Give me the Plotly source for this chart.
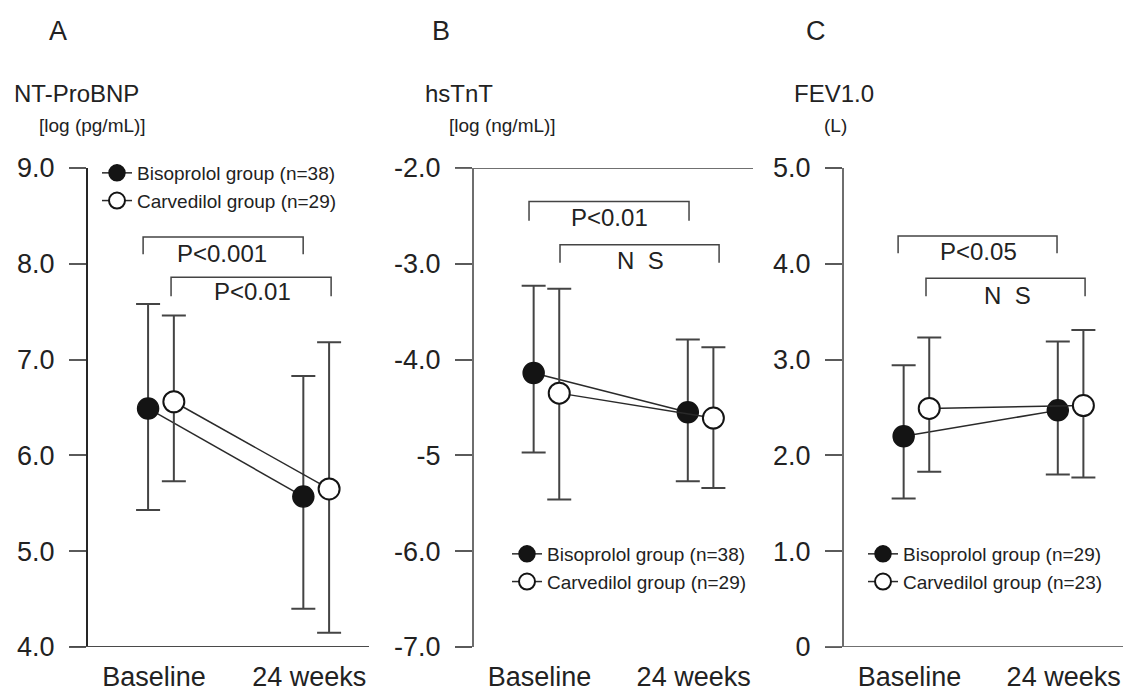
import plotly.graph_objects as go

# ---------------------------------------------------------------- data
categories = ["Baseline", "24 weeks"]

# A: NT-ProBNP [log (pg/mL)]  mean with upper / lower whisker ends
ntprobnp_bis_mean = [6.49, 5.57]
ntprobnp_bis_upper = [7.58, 6.83]
ntprobnp_bis_lower = [5.43, 4.40]
ntprobnp_car_mean = [6.56, 5.65]
ntprobnp_car_upper = [7.46, 7.18]
ntprobnp_car_lower = [5.73, 4.15]

# B: hsTnT [log (ng/mL)]
hstnt_bis_mean = [-4.14, -4.55]
hstnt_bis_upper = [-3.23, -3.79]
hstnt_bis_lower = [-4.97, -5.27]
hstnt_car_mean = [-4.35, -4.61]
hstnt_car_upper = [-3.26, -3.87]
hstnt_car_lower = [-5.46, -5.34]

# C: FEV1.0 (L)
fev_bis_mean = [2.20, 2.47]
fev_bis_upper = [2.94, 3.19]
fev_bis_lower = [1.55, 1.80]
fev_car_mean = [2.49, 2.52]
fev_car_upper = [3.23, 3.31]
fev_car_lower = [1.83, 1.77]

names_a = ["Bisoprolol group (n=38)", "Carvedilol group (n=29)"]
names_b = ["Bisoprolol group (n=38)", "Carvedilol group (n=29)"]
names_c = ["Bisoprolol group (n=29)", "Carvedilol group (n=23)"]

ytick_vals_a = [4, 5, 6, 7, 8, 9]
ytick_text_a = ["4.0", "5.0", "6.0", "7.0", "8.0", "9.0"]
ytick_vals_b = [-7, -6, -5, -4, -3, -2]
ytick_text_b = ["-7.0", "-6.0", "-5", "-4.0", "-3.0", "-2.0"]
ytick_vals_c = [0, 1, 2, 3, 4, 5]
ytick_text_c = ["0", "1.0", "2.0", "3.0", "4.0", "5.0"]

panel_letters = ["A", "B", "C"]
panel_titles = [("NT-ProBNP", "[log (pg/mL)]"),
                ("hsTnT", "[log (ng/mL)]"),
                ("FEV1.0", "(L)")]

# significance labels per panel: (baseline comparison, 24-week comparison)
sig_a = ["P<0.001", "P<0.01"]
sig_b = ["P<0.01", "N\u00a0\u00a0S"]
sig_c = ["P<0.05", "N\u00a0\u00a0S"]

# ---------------------------------------------------------------- layout helpers
W, H = 1132, 694
FONT = "Arial, Liberation Sans, Helvetica, sans-serif"
TXT = "#222222"


def px_x(p):
    return p / W


def px_y(p):
    return 1 - p / H


XRANGE = [-0.47, 1.34]
DODGE = 0.083
LABEL_SHIFT = -0.045
x_dom = [[px_x(88), px_x(369)], [px_x(474), px_x(753)], [px_x(844), px_x(1123)]]
y_dom = [px_y(647), px_y(168)]

panels = [
    dict(bis=(ntprobnp_bis_mean, ntprobnp_bis_upper, ntprobnp_bis_lower),
         car=(ntprobnp_car_mean, ntprobnp_car_upper, ntprobnp_car_lower),
         names=names_a, tv=ytick_vals_a, tt=ytick_text_a, rng=[4, 9],
         axcol="#262626", sig=sig_a,
         brackets=[(-0.115, 0.916, 8.28, 8.10, 0.394, 8.11),
                   (0.065, 1.096, 7.86, 7.66, 0.59, 7.71)],
         legend=dict(x=px_x(97), y=px_y(154))),
    dict(bis=(hstnt_bis_mean, hstnt_bis_upper, hstnt_bis_lower),
         car=(hstnt_car_mean, hstnt_car_upper, hstnt_car_lower),
         names=names_b, tv=ytick_vals_b, tt=ytick_text_b, rng=[-7, -2],
         axcol="#6e6e6e", sig=sig_b,
         brackets=[(-0.113, 0.925, -2.35, -2.55, 0.406, -2.52),
                   (0.088, 1.12, -2.80, -2.99, 0.607, -2.97)],
         legend=dict(x=px_x(507), y=px_y(535))),
    dict(bis=(fev_bis_mean, fev_bis_upper, fev_bis_lower),
         car=(fev_car_mean, fev_car_upper, fev_car_lower),
         names=names_c, tv=ytick_vals_c, tt=ytick_text_c, rng=[0, 5],
         axcol="#6e6e6e", sig=sig_c,
         brackets=[(-0.119, 0.912, 4.29, 4.11, 0.40, 4.13),
                   (0.062, 1.094, 3.85, 3.66, 0.588, 3.67)],
         legend=dict(x=px_x(863), y=px_y(535))),
]

fig = go.Figure()
layout = dict(width=W, height=H, margin=dict(l=0, r=0, t=0, b=0, autoexpand=False),
              paper_bgcolor="white", plot_bgcolor="white",
              font=dict(family=FONT, color=TXT), showlegend=True)
shapes, annotations = [], []

cat_pos = list(range(len(categories)))

for i, p in enumerate(panels):
    sfx = "" if i == 0 else str(i + 1)
    xa, ya = "x" + sfx, "y" + sfx
    leg = "legend" + sfx

    for key, fill, lw, off in (("bis", "#141414", 1.5, -DODGE),
                               ("car", "white", 2, DODGE)):
        mean, upper, lower = p[key]
        fig.add_trace(go.Scatter(
            x=[c + off for c in cat_pos], y=mean,
            mode="lines+markers",
            name=p["names"][0 if key == "bis" else 1],
            line=dict(color="#2a2a2a", width=1.5),
            marker=dict(size=21, color=fill, line=dict(color="#141414", width=lw)),
            error_y=dict(type="data", symmetric=False,
                         array=[u - m for u, m in zip(upper, mean)],
                         arrayminus=[m - l for m, l in zip(mean, lower)],
                         color="#444444", thickness=2, width=12),
            cliponaxis=False, xaxis=xa, yaxis=ya, legend=leg,
        ))

    layout["xaxis" + sfx] = dict(
        domain=x_dom[i], range=XRANGE, anchor=ya, showgrid=False,
        zeroline=False, showline=False, ticks="", automargin=False,
        tickvals=[c + LABEL_SHIFT for c in cat_pos], ticktext=categories,
        tickfont=dict(size=27, family=FONT, color=TXT), ticklabelstandoff=11)
    layout["yaxis" + sfx] = dict(
        domain=y_dom, range=p["rng"], anchor=xa, showgrid=False,
        zeroline=False, showline=True, linecolor=p["axcol"], linewidth=2,
        ticks="outside", ticklen=17, tickwidth=2, tickcolor="#5a5a5a",
        tickvals=p["tv"], ticktext=p["tt"], automargin=False,
        tickfont=dict(size=27, family=FONT, color=TXT), ticklabelstandoff=9)
    layout[leg] = dict(
        x=p["legend"]["x"], y=p["legend"]["y"], xanchor="left", yanchor="top",
        bgcolor="rgba(0,0,0,0)", font=dict(size=19, family=FONT, color=TXT),
        itemwidth=30, tracegroupgap=0)

    # significance brackets
    for (x0, x1, ytop, yleg, tx, ty), label in zip(p["brackets"], p["sig"]):
        shapes.append(dict(type="path", xref=xa, yref=ya,
                           path=f"M {x0},{yleg} L {x0},{ytop} L {x1},{ytop} L {x1},{yleg}",
                           line=dict(color="#444444", width=1.5)))
        annotations.append(dict(text=label, x=tx, y=ty, xref=xa, yref=ya,
                                showarrow=False, xanchor="center", yanchor="middle",
                                font=dict(size=24, family=FONT, color=TXT)))

# horizontal frame lines
shapes.append(dict(type="line", xref="paper", yref="y", x0=px_x(70), x1=px_x(369),
                   y0=4, y1=4, line=dict(color="#4a4a4a", width=2)))
shapes.append(dict(type="line", xref="paper", yref="y2", x0=px_x(455), x1=px_x(753),
                   y0=-2, y1=-2, line=dict(color="#707070", width=2)))
shapes.append(dict(type="line", xref="paper", yref="y3", x0=px_x(825), x1=px_x(1123),
                   y0=0, y1=0, line=dict(color="#707070", width=2)))

# panel letters and axis titles
letter_x = [58, 441, 816]
title_x = [(12, 37), (423, 447), (792, 822)]
for i in range(3):
    annotations.append(dict(text=panel_letters[i], x=px_x(letter_x[i]), y=px_y(31),
                            xref="paper", yref="paper", showarrow=False,
                            xanchor="center", yanchor="middle",
                            font=dict(size=27, family=FONT, color=TXT)))
    annotations.append(dict(text=panel_titles[i][0], x=px_x(title_x[i][0]), y=px_y(94),
                            xref="paper", yref="paper", showarrow=False,
                            xanchor="left", yanchor="middle",
                            font=dict(size=24, family=FONT, color=TXT)))
    annotations.append(dict(text=panel_titles[i][1], x=px_x(title_x[i][1]), y=px_y(126),
                            xref="paper", yref="paper", showarrow=False,
                            xanchor="left", yanchor="middle",
                            font=dict(size=19, family=FONT, color=TXT)))

layout["shapes"] = shapes
layout["annotations"] = annotations
fig.update_layout(**layout)
fig.write_html("out.html")
